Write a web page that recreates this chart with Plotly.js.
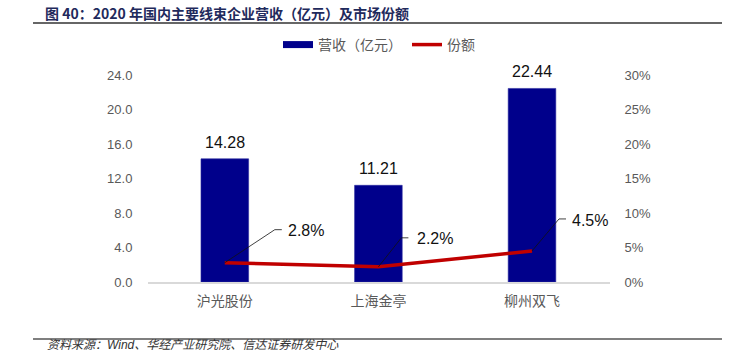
<!DOCTYPE html>
<html>
<head>
<meta charset="utf-8">
<script src="https://cdn.plot.ly/plotly-3.0.1.min.js"></script>
<style>html,body{margin:0;padding:0;background:#fff;}#chart{width:735px;height:352px;}</style>
</head>
<body>
<div id="chart"></div>
<script>
// ---- data ----
const companies = ['沪光股份', '上海金亭', '柳州双飞'];
const revenue = [14.28, 11.21, 22.44];          // 营收（亿元）
const share = [0.028, 0.022, 0.045];             // 份额
const revenueTicks = [0, 4, 8, 12, 16, 20, 24];
const shareTicks = [0, 0.05, 0.10, 0.15, 0.20, 0.25, 0.30];

// ---- label leader styling (pixel offsets, not data) ----
const leaderOffsets = [
  {dx: 50, dy: 33, hx: 57, tx: 61, ty: 32},
  {dx: 23, dy: 29, hx: 30, tx: 37, ty: 28},
  {dx: 27, dy: 32, hx: 34, tx: 38, ty: 30}
];

const NAVY = '#00008B';
const RED = '#C00000';
const GREY = '#595959';
const FONT = 'Liberation Sans, Arial, Noto Sans CJK SC, sans-serif';

const traces = [
  {
    type: 'bar', x: companies, y: revenue, name: '营收（亿元）',
    marker: {color: NAVY, line: {color: '#2a2aa0', width: 0.6}},
    width: 0.31, showlegend: false, hoverinfo: 'skip'
  },
  {
    type: 'scatter', mode: 'lines', x: [null], y: [null], name: '营收（亿元）',
    line: {color: NAVY, width: 7}, hoverinfo: 'skip'
  },
  {
    type: 'scatter', mode: 'lines', x: companies, y: share, yaxis: 'y2', name: '份额',
    line: {color: RED, width: 3.5}, hoverinfo: 'skip'
  }
];

const shapes = [
  // title underline and footer line
  {type: 'line', xref: 'paper', yref: 'paper', x0: -0.2489, x1: 1.2424, y0: 1.2512, y1: 1.2512,
   line: {color: '#333', width: 1.5}},
  {type: 'line', xref: 'paper', yref: 'paper', x0: -0.2489, x1: 1.2424, y0: -0.2754, y1: -0.2754,
   line: {color: '#555', width: 1.5}}
];
const annotations = [
  {xref: 'paper', yref: 'paper', x: -0.223, y: -0.305, xanchor: 'left', yanchor: 'middle',
   text: '<i>资料来源：Wind、华经产业研究院、信达证券研发中心</i>', showarrow: false,
   font: {size: 12, color: '#333', family: FONT}}
];
companies.forEach((c, i) => {
  // bar value labels
  annotations.push({
    xref: 'x', yref: 'y', x: c, y: revenue[i], xanchor: 'center', yanchor: 'bottom',
    yshift: 6, showarrow: false, text: revenue[i].toFixed(2),
    font: {size: 16, color: '#111', family: FONT}
  });
  const o = leaderOffsets[i];
  shapes.push({
    type: 'path', xref: 'x', yref: 'y2', xsizemode: 'pixel', ysizemode: 'pixel',
    xanchor: c, yanchor: share[i],
    path: `M0,0 L${o.dx},${o.dy} L${o.hx},${o.dy}`,
    line: {color: '#111', width: 0.8}
  });
  annotations.push({
    xref: 'x', yref: 'y2', x: c, y: share[i], xanchor: 'left', yanchor: 'middle',
    xshift: o.tx, yshift: o.ty, showarrow: false,
    text: (share[i] * 100).toFixed(1) + '%',
    font: {size: 16, color: '#111', family: FONT}
  });
});

const layout = {
  width: 735, height: 352,
  margin: {l: 148, r: 125, t: 75, b: 70},
  paper_bgcolor: '#fff', plot_bgcolor: '#fff',
  font: {family: FONT, color: GREY},
  title: {
    text: '<b>图 40：2020 年国内主要线束企业营收（亿元）及市场份额</b>',
    x: 45 / 735, xanchor: 'left', xref: 'container',
    y: 1 - 14 / 352, yanchor: 'middle', yref: 'container',
    font: {size: 14, color: '#1F2A5C', family: 'Noto Sans CJK SC, sans-serif'}
  },
  showlegend: true,
  legend: {orientation: 'h', x: 0.5, xanchor: 'center', y: 1.145, yanchor: 'middle',
           font: {size: 14, color: GREY, family: FONT}, traceorder: 'normal',
           itemwidth: 30, bgcolor: 'rgba(0,0,0,0)'},
  xaxis: {
    type: 'category', showgrid: false, zeroline: false, showline: true,
    linecolor: '#D9D9D9', linewidth: 1.5, ticks: 'outside', ticklen: 6, tickcolor: 'rgba(0,0,0,0)',
    tickfont: {size: 14, color: GREY, family: FONT}, fixedrange: true
  },
  yaxis: {
    range: [0, 24], tickvals: revenueTicks, ticktext: revenueTicks.map(v => v.toFixed(1)),
    showgrid: false, zeroline: false, showline: false,
    ticks: 'outside', ticklen: 12, tickcolor: 'rgba(0,0,0,0)',
    tickfont: {size: 13, color: GREY, family: FONT}
  },
  yaxis2: {
    overlaying: 'y', side: 'right', range: [0, 0.30], tickvals: shareTicks,
    ticktext: shareTicks.map(v => Math.round(v * 100) + '%'),
    showgrid: false, zeroline: false, showline: false,
    ticks: 'outside', ticklen: 11, tickcolor: 'rgba(0,0,0,0)',
    tickfont: {size: 13, color: GREY, family: FONT}
  },
  bargap: 0.69,
  shapes: shapes,
  annotations: annotations
};

Plotly.newPlot('chart', traces, layout, {displayModeBar: false, staticPlot: true});
</script>
</body>
</html>
